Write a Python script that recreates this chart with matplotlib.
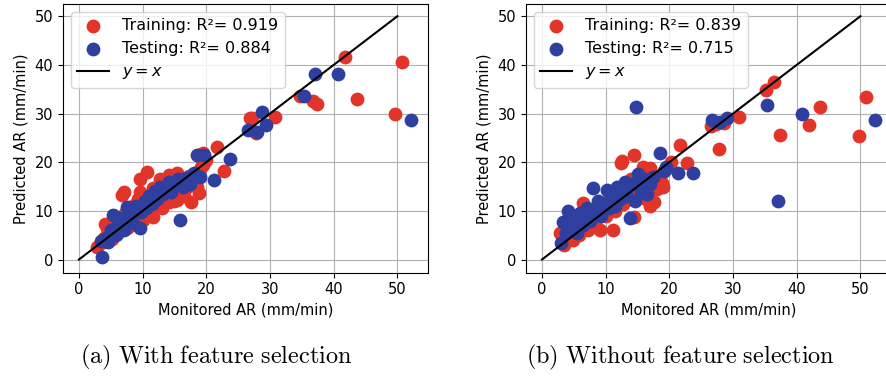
import matplotlib
matplotlib.use("Agg")
import matplotlib.pyplot as plt
import numpy as np

# ---- data ----
# (a) with feature selection
train_a_x = [2.8, 3.5, 4.0, 4.4, 4.1, 4.8, 5.2, 5.5, 5.8, 6.0, 6.3, 6.7, 7.0, 7.2, 7.5, 7.8, 8.0, 8.3, 8.6, 9.0,
             9.3, 9.6, 9.6, 10.0, 10.2, 10.7, 10.8, 11.0, 11.3, 11.6, 11.7, 12.2, 12.5, 12.8, 13.0, 13.3, 13.6, 14.1,
             14.2, 14.5, 14.8, 15.0, 15.4, 15.4, 15.8, 16.2, 16.5, 17.0, 17.3, 17.6, 18.0, 18.5, 18.8, 18.8, 19.2,
             19.5, 19.5, 20.0, 21.7, 22.8, 26.8, 27.1, 27.8, 30.8, 34.7, 36.7, 37.4, 41.8, 43.7, 49.6, 50.7]
train_a_y = [2.6, 3.4, 4.5, 6.4, 7.4, 5.0, 4.2, 6.0, 7.8, 5.2, 8.6, 13.2, 13.9, 9.5, 6.5, 8.0, 10.5, 7.2, 11.2, 9.0,
             12.5, 13.9, 16.6, 8.2, 11.0, 18.0, 13.0, 9.5, 12.2, 14.8, 8.7, 11.5, 13.5, 16.5, 10.5, 12.8, 15.0, 17.3,
             11.8, 13.8, 15.5, 12.0, 17.7, 12.2, 14.5, 16.0, 13.0, 14.9, 17.2, 11.8, 16.0, 15.0, 13.6, 21.4, 19.0,
             21.8, 19.4, 20.5, 23.1, 18.2, 29.0, 29.0, 26.0, 29.3, 33.7, 32.5, 31.9, 41.7, 32.9, 30.0, 40.6]
test_a_x = [3.6, 3.5, 4.2, 4.5, 5.0, 5.4, 5.8, 6.2, 6.5, 7.0, 7.5, 7.8, 8.2, 8.5, 9.0, 9.6, 9.8, 10.3, 10.6, 11.0,
            11.5, 12.0, 12.3, 12.8, 13.2, 13.7, 14.2, 14.5, 15.0, 15.5, 15.9, 16.3, 16.8, 17.5, 18.0, 18.5, 19.0,
            19.6, 21.2, 23.7, 26.6, 27.9, 28.7, 29.3, 35.4, 37.0, 40.7, 52.2]
test_a_y = [0.5, 3.8, 4.5, 3.6, 6.0, 9.1, 5.0, 7.0, 8.5, 6.0, 10.8, 8.5, 9.5, 7.5, 11.0, 6.4, 9.8, 12.0, 10.5, 13.0,
            11.5, 14.0, 12.5, 15.0, 13.5, 14.5, 16.0, 13.8, 15.5, 16.5, 8.1, 15.0, 16.8, 15.5, 17.8, 21.4, 17.0,
            21.4, 16.3, 20.7, 26.7, 26.2, 30.3, 27.6, 33.7, 38.2, 38.2, 28.7]

# (b) without feature selection
train_b_x = [2.8, 3.5, 4.0, 4.9, 5.5, 5.8, 6.5, 6.8, 7.2, 7.8, 8.3, 8.8, 9.1, 9.5, 10.0, 10.5, 11.2, 11.5, 12.0,
             12.4, 12.5, 12.8, 13.2, 13.6, 14.0, 14.4, 14.4, 14.8, 15.2, 15.6, 15.9, 16.3, 16.8, 17.0, 17.0, 17.6,
             18.0, 18.5, 18.9, 19.0, 19.5, 20.2, 21.7, 22.8, 26.5, 27.3, 27.8, 28.5, 30.9, 35.1, 36.5, 37.4, 41.9,
             43.7, 49.7, 50.9]
train_b_y = [5.4, 3.0, 6.5, 4.0, 7.0, 5.0, 11.6, 8.5, 6.0, 9.5, 7.5, 10.5, 6.1, 11.5, 9.0, 12.5, 6.1, 10.0, 13.5,
             19.9, 20.2, 11.5, 15.0, 12.5, 16.5, 8.8, 21.4, 13.5, 17.5, 14.8, 19.0, 12.5, 16.0, 18.8, 10.9, 11.9,
             14.5, 17.0, 15.7, 14.9, 18.5, 20.0, 23.6, 19.9, 27.5, 27.8, 22.8, 28.0, 29.2, 34.8, 36.5, 25.5, 27.7,
             31.3, 25.3, 33.3]
test_b_x = [3.0, 3.3, 3.8, 4.1, 4.5, 5.0, 5.5, 6.0, 6.5, 7.0, 7.5, 8.0, 8.3, 8.8, 9.2, 9.8, 10.2, 10.5, 11.0, 11.4,
            11.8, 12.2, 12.6, 13.0, 13.4, 13.9, 14.2, 14.6, 14.8, 15.0, 15.5, 16.0, 16.5, 17.0, 17.5, 18.6, 19.2,
            19.4, 21.3, 23.7, 26.7, 28.0, 29.0, 35.3, 37.0, 40.8, 52.3]
test_b_y = [3.3, 7.8, 5.5, 9.9, 6.8, 8.5, 5.5, 9.5, 7.0, 10.5, 8.0, 14.7, 10.0, 12.0, 9.0, 11.5, 14.3, 10.5, 13.0,
            11.0, 15.0, 12.5, 14.0, 16.0, 13.0, 8.5, 15.5, 12.0, 31.3, 17.5, 14.0, 16.5, 13.5, 15.5, 17.0, 21.9,
            18.1, 19.0, 17.8, 17.8, 28.6, 28.3, 29.0, 31.8, 12.0, 29.8, 28.7]

r2_a = (0.919, 0.884)
r2_b = (0.839, 0.715)
captions = ["(a) With feature selection", "(b) Without feature selection"]

RED = "#e3342a"
BLUE = "#2f3f9f"

plt.rcParams['font.size'] = 10.5
plt.rcParams['mathtext.fontset'] = 'dejavusans'

fig = plt.figure(figsize=(8.86, 3.78), dpi=100)
ax_a = fig.add_axes([0.0711, 0.2786, 0.412, 0.7108])
ax_b = fig.add_axes([0.5937, 0.2786, 0.412, 0.7108])

panels = [
    (ax_a, train_a_x, train_a_y, test_a_x, test_a_y, r2_a),
    (ax_b, train_b_x, train_b_y, test_b_x, test_b_y, r2_b),
]

for ax, trx, try_, tex, tey, r2 in panels:
    ax.scatter(trx, try_, s=80, color=RED, label=f"Training: R²= {r2[0]}", zorder=2)
    ax.scatter(tex, tey, s=80, color=BLUE, label=f"Testing: R²= {r2[1]}", zorder=2)
    ax.plot([0, 50], [0, 50], color="black", linewidth=1.5, label="$y=x$", zorder=3)
    ax.grid(True, color="#b0b0b0", linewidth=0.8)
    ax.set_axisbelow(True)
    ax.set_xlabel("Monitored AR (mm/min)")
    ax.set_ylabel("Predicted AR (mm/min)")
    ax.set_xticks([0, 10, 20, 30, 40, 50])
    ax.set_yticks([0, 10, 20, 30, 40, 50])
    ax.set_ylim(-2.7, 52.5)
    ax.legend(loc="upper left", fontsize=11.5)

ax_a.set_xlim(-2.5, 54.8)
ax_b.set_xlim(-2.5, 54.8)

# captions below each panel, Computer Modern look
for xc, cap in zip([0.244, 0.768], captions):
    txt = r"$\mathrm{" + cap.replace(" ", r"\ ") + "}$"
    fig.text(xc, 0.055, txt, ha="center", va="center", fontsize=17.5, math_fontfamily="cm")

fig.savefig("out.png", dpi=100)
